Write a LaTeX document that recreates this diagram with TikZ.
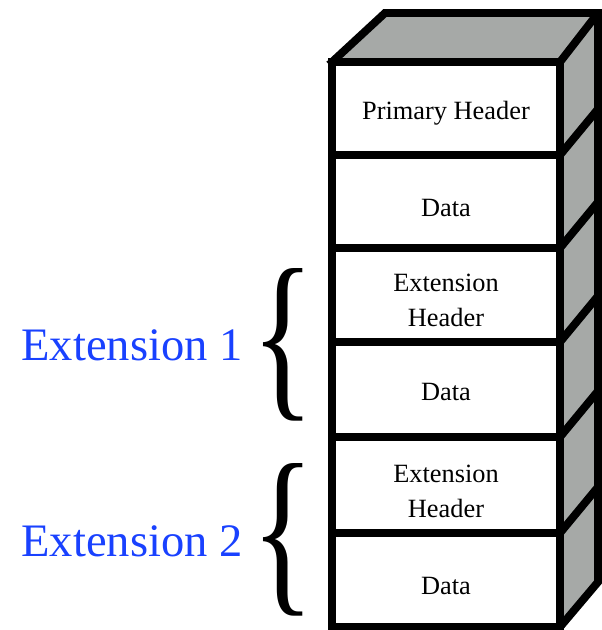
\documentclass[tikz,border=0pt]{standalone}
\usepackage{fontspec}
\setmainfont{Liberation Serif}
\usepackage{graphicx}
\definecolor{sidegray}{RGB}{166,169,167}
\definecolor{extblue}{RGB}{25,65,255}

\begin{document}
\begin{tikzpicture}[x=0.02cm, y=-0.02cm]
	\tikzset{
		wall/.style={line width=4.5pt, line join=miter, line cap=rect},
		cell/.style={font=\fontsize{15}{20}\selectfont, align=center},
		extlabel/.style={font=\fontsize{26.5}{30}\selectfont, text=extblue},
		bracemark/.style={inner sep=0pt}
	}
	\useasboundingbox (0,0) rectangle (602,630);
	% side and top faces
	\fill[sidegray] (332,62) -- (385,13) -- (598,13) -- (598,582) -- (560,627) -- cycle;
	\draw[wall] (560,62) -- (598,13) -- (385,13) -- (332,62);
	\draw[wall] (598,13) -- (598,582) -- (560,627);
	% front face
	\draw[wall, fill=white] (332,62) rectangle (560,627);
	\foreach \y in {155,248,342,437,533} {
		\draw[wall] (332,\y) -- (560,\y);
		\draw[wall] (560,\y) -- (598,\y-46);
	}
	\node[cell] (prim) at (446,113) {Primary Header};
	\node[cell] (data0) at (446,208) {Data};
	\node[cell] (hdr1) at (446,300) {Extension\\Header};
	\node[cell] (data1) at (446,392) {Data};
	\node[cell] (hdr2) at (446,491) {Extension\\Header};
	\node[cell] (data2) at (446,586) {Data};
	\node[bracemark] (brace1) at (283,345) {\scalebox{1.5}[2.1]{\fontsize{50}{50}\selectfont\{}};
	\node[bracemark] (brace2) at (283,540) {\scalebox{1.5}[2.1]{\fontsize{50}{50}\selectfont\{}};
	\node[extlabel] (ext1) at (132,345) {Extension 1};
	\node[extlabel] (ext2) at (132,541) {Extension 2};
\end{tikzpicture}
\end{document}
